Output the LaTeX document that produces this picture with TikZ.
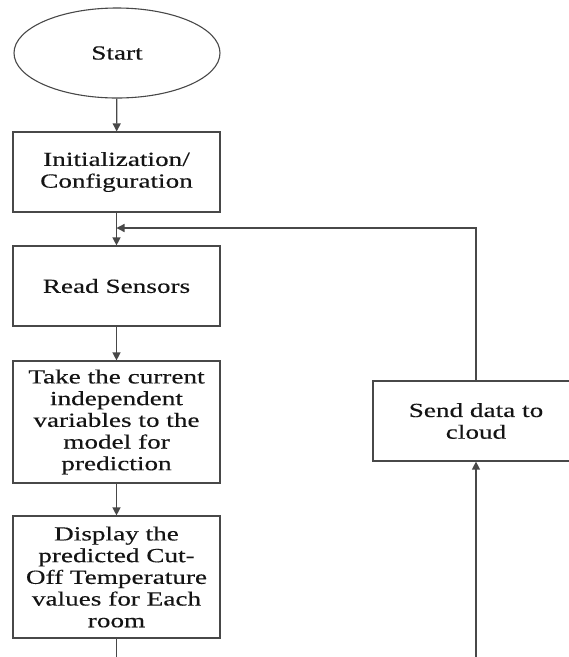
\documentclass[tikz,border=0pt]{standalone}
\usepackage{fontspec}
\setmainfont{Liberation Serif}[FakeStretch=1.36,FakeBold=0.3]
\usetikzlibrary{shapes.geometric,arrows.meta}
\definecolor{linegray}{HTML}{484848}
\definecolor{textdark}{HTML}{141414}
\begin{document}
\begin{tikzpicture}[x=1pt,y=-1pt,
  every node/.style={text=textdark,font=\fontsize{20}{21.7}\selectfont},
  flowbox/.style={draw=linegray,line width=1.2pt,rectangle,minimum width=207pt,
    inner sep=0pt,align=center},
  flowline/.style={draw=linegray,line width=1.3pt},
  flowarrow/.style={flowline,-{Triangle[length=8pt,width=8pt]}}]
\useasboundingbox (0,0) rectangle (569,657);
\fill[white] (0,0) rectangle (569,657);
% process steps
\node[draw=linegray,line width=1.1pt,ellipse,minimum width=206pt,minimum height=90pt,inner sep=0pt] (start) at (117,53) {Start};
\node[flowbox,minimum height=80pt] (init) at (116.5,172) {Initialization/\\Configuration};
\node[flowbox,minimum height=80pt] (read) at (116.5,286) {Read Sensors};
\node[flowbox,minimum height=122pt] (take) at (116.5,422) {Take the current\\independent\\variables to the\\model for\\prediction};
\node[flowbox,minimum height=122pt] (disp) at (116.5,577) {Display the\\predicted Cut-\\Off Temperature\\values for Each\\room};
\node[flowbox,minimum width=206pt,minimum height=80pt] (send) at (476,421) {Send data to\\cloud};
% free ends and joins
\coordinate (dout) at (116.5,662);
\coordinate (cin) at (476,662);
\coordinate (join) at (116.5,228);
% connectors
\draw[flowarrow] (start) -- (init);
\draw[flowarrow] (init) -- (read);
\draw[flowarrow] (read) -- (take);
\draw[flowarrow] (take) -- (disp);
\draw[flowline] (disp) -- (dout);
\draw[flowarrow] (cin) -- (send);
\draw[flowarrow] (send.north) |- (join);
\end{tikzpicture}
\end{document}
